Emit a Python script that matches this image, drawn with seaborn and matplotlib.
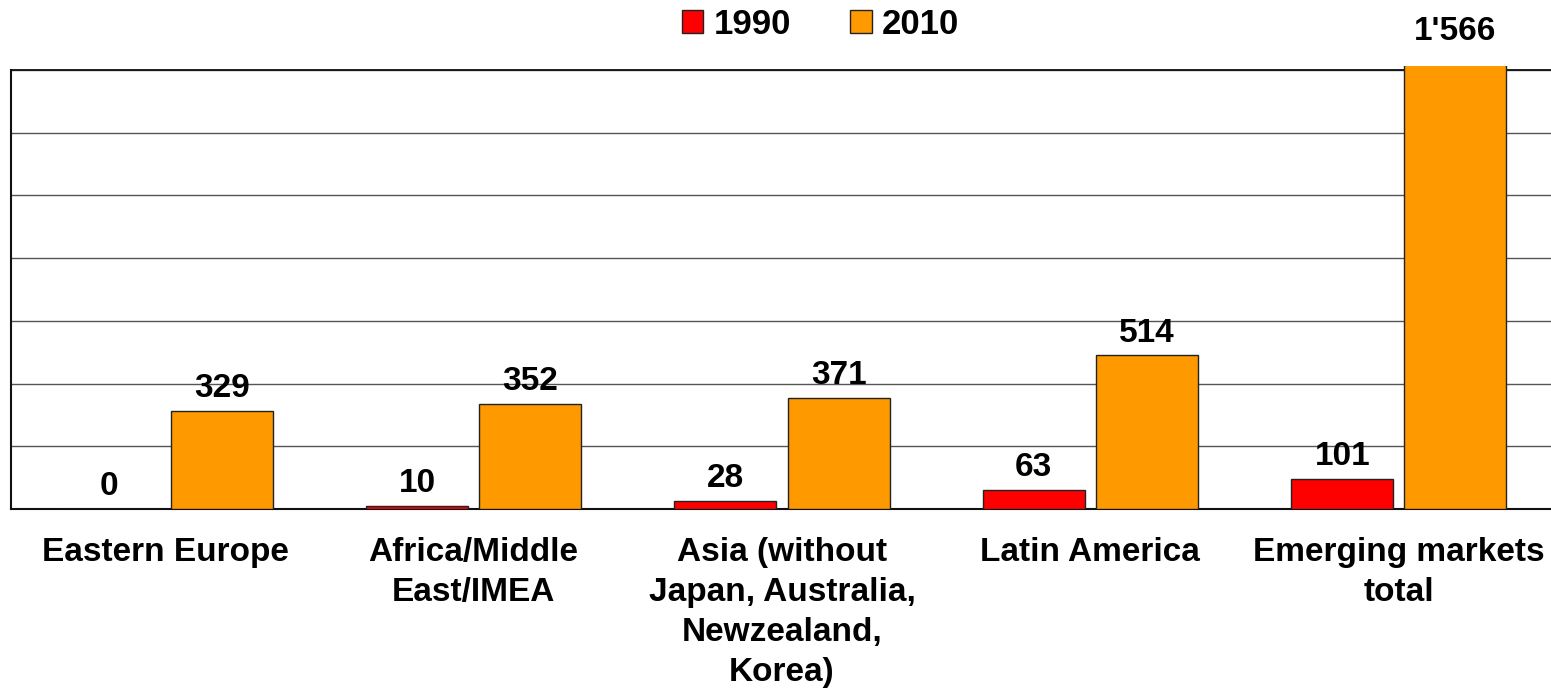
import pandas as pd
import numpy as np
import seaborn as sns
import matplotlib.pyplot as plt

# data
regions = ["Eastern Europe", "Africa/Middle\nEast/IMEA",
           "Asia (without\nJapan, Australia,\nNewzealand,\nKorea)",
           "Latin America", "Emerging markets\ntotal"]
years = ["1990", "2010"]
values_1990 = [0, 10, 28, 63, 101]
values_2010 = [329, 352, 371, 514, 1566]

df = pd.DataFrame({
    "region": regions * 2,
    "year": [years[0]] * len(regions) + [years[1]] * len(regions),
    "value": values_1990 + values_2010,
})

sns.set_theme(style="white")
plt.rcParams['font.family'] = ['Liberation Sans', 'DejaVu Sans']
plt.rcParams['font.weight'] = 'bold'
plt.rcParams['text.color'] = 'black'
plt.rcParams['xtick.color'] = 'black'

step = 210
top = 7 * step

fig = plt.figure(figsize=(15.51, 6.92), dpi=100)
ax = fig.add_axes([0.0071, 0.2645, 0.9942, 0.6400])

palette = {"1990": "#FF0000", "2010": "#FF9900"}
sns.barplot(data=df, x="region", y="value", hue="year", palette=palette,
            width=0.734, gap=0.1, edgecolor="#222222", linewidth=1,
            saturation=1, ax=ax, zorder=3)

ax.set_ylim(0, top + 13)
ax.set_xlim(-0.5, len(regions) - 0.5)
ax.set_yticks(np.arange(0, top + 1, step))
ax.set_yticklabels([])
ax.yaxis.grid(True, color="#555555", linewidth=1, zorder=0)
ax.axhline(top, color="#111111", linewidth=1.3, zorder=1)
ax.tick_params(axis="both", length=0)
ax.set_xlabel("")
ax.set_ylabel("")
ax.set_xticks(range(len(regions)))
ax.set_xticklabels(regions, fontsize=24, fontweight="bold", linespacing=1.38,
                   color="black")
ax.tick_params(axis="x", pad=20)

for side in ["top", "right"]:
    ax.spines[side].set_visible(False)
ax.spines["left"].set_bounds(0, top)
ax.spines["left"].set_color("#111111")
ax.spines["bottom"].set_color("#111111")
ax.spines["left"].set_linewidth(1.5)
ax.spines["bottom"].set_linewidth(1.5)

# value labels
ylim_top = ax.get_ylim()[1]
for container in ax.containers:
    for bar in container:
        h = bar.get_height()
        x = bar.get_x() + bar.get_width() / 2
        label = f"{int(h):,}".replace(",", "'")
        clipped = h > ylim_top
        ax.annotate(label, (x, min(h, ylim_top)),
                    xytext=(0, 14 if clipped else 5),
                    textcoords="offset points", ha="center", va="bottom",
                    fontsize=24, fontweight="bold", color="black",
                    annotation_clip=False)

handles, labels = ax.get_legend_handles_labels()
ax.get_legend().remove()
fig.legend(handles, labels, loc="upper center", bbox_to_anchor=(0.529, 1.034),
           ncol=2, frameon=False, fontsize=25, handlelength=0.62,
           handleheight=0.62, handletextpad=0.3, columnspacing=1.7)

fig.savefig("out.png", dpi=100)
